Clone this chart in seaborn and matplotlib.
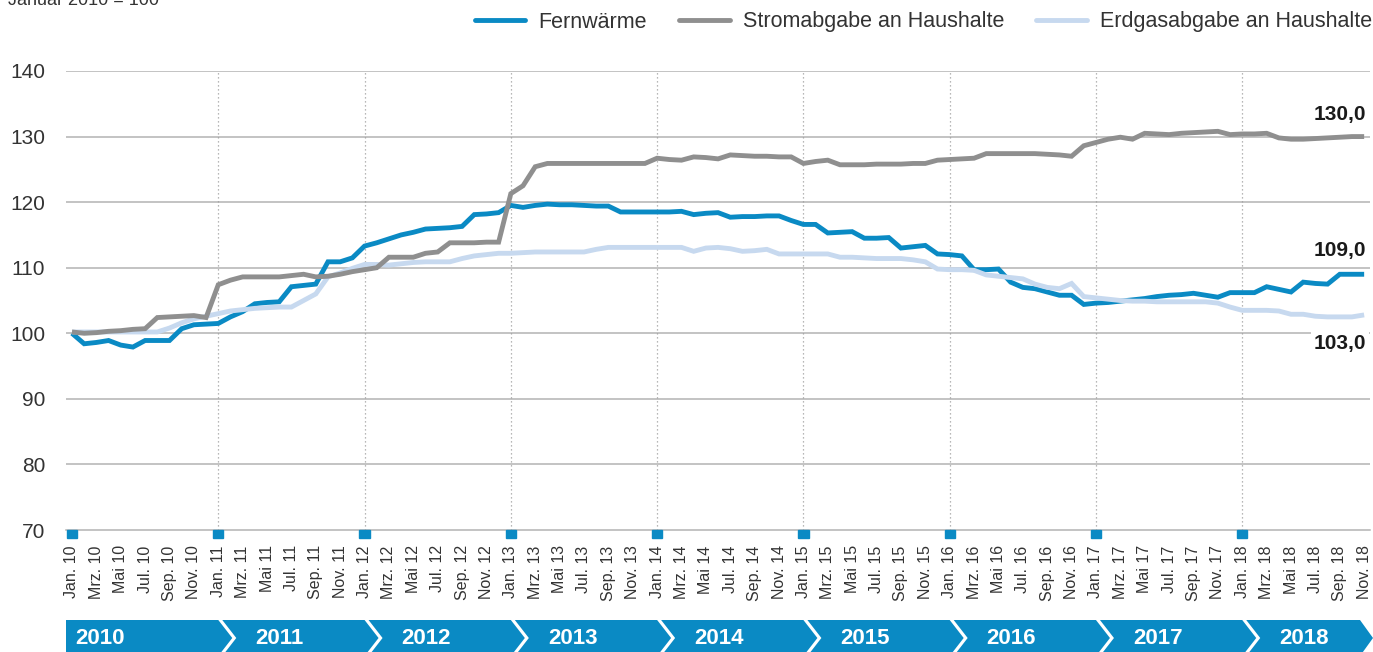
import matplotlib

matplotlib.use("Agg")

import matplotlib.pyplot as plt
import pandas as pd
import seaborn as sns
from matplotlib.lines import Line2D
from matplotlib.patches import Polygon, Rectangle


W, H = 1373, 652

# Index values, Januar 2010 = 100, monthly from Jan. 2010 to Nov. 2018
fernwaerme = [
    100.0, 98.4, 98.6, 98.9, 98.2, 97.9, 98.9, 98.9, 98.9, 100.7, 101.3, 101.4,
    101.5, 102.5, 103.3, 104.5, 104.7, 104.8, 107.1, 107.3, 107.5, 110.9, 110.9, 111.5,
    113.3, 113.8, 114.4, 115.0, 115.4, 115.9, 116.0, 116.1, 116.3, 118.1, 118.2, 118.4,
    119.5, 119.2, 119.5, 119.7, 119.6, 119.6, 119.5, 119.4, 119.4, 118.5, 118.5, 118.5,
    118.5, 118.5, 118.6, 118.1, 118.3, 118.4, 117.7, 117.8, 117.8, 117.9, 117.9, 117.2,
    116.6, 116.6, 115.3, 115.4, 115.5, 114.5, 114.5, 114.6, 113.0, 113.2, 113.4, 112.1,
    112.0, 111.8, 109.7, 109.7, 109.8, 107.8, 107.0, 106.8, 106.3, 105.8, 105.8, 104.4,
    104.6, 104.7, 104.9, 105.1, 105.3, 105.6, 105.8, 105.9, 106.1, 105.8, 105.5, 106.2,
    106.2, 106.2, 107.1, 106.7, 106.3, 107.8, 107.6, 107.5, 109.0, 109.0, 109.0,
]
strom = [
    100.2, 100.0, 100.1, 100.3, 100.4, 100.6, 100.7, 102.4, 102.5, 102.6, 102.7, 102.4,
    107.4, 108.1, 108.6, 108.6, 108.6, 108.6, 108.8, 109.0, 108.6, 108.7, 109.0, 109.4,
    109.7, 110.0, 111.6, 111.6, 111.6, 112.2, 112.4, 113.8, 113.8, 113.8, 113.9, 113.9,
    121.3, 122.5, 125.4, 125.9, 125.9, 125.9, 125.9, 125.9, 125.9, 125.9, 125.9, 125.9,
    126.7, 126.5, 126.4, 126.9, 126.8, 126.6, 127.2, 127.1, 127.0, 127.0, 126.9, 126.9,
    125.9, 126.2, 126.4, 125.7, 125.7, 125.7, 125.8, 125.8, 125.8, 125.9, 125.9, 126.4,
    126.5, 126.6, 126.7, 127.4, 127.4, 127.4, 127.4, 127.4, 127.3, 127.2, 127.0, 128.6,
    129.1, 129.6, 129.9, 129.6, 130.5, 130.4, 130.3, 130.5, 130.6, 130.7, 130.8, 130.3,
    130.4, 130.4, 130.5, 129.8, 129.6, 129.6, 129.7, 129.8, 129.9, 130.0, 130.0,
]
erdgas = [
    100.2, 100.2, 100.2, 100.2, 100.2, 100.2, 100.2, 100.2, 100.8, 101.6, 102.2, 102.6,
    103.0, 103.4, 103.6, 103.8, 103.9, 104.0, 104.0, 105.0, 106.0, 108.6, 109.2, 109.9,
    110.5, 110.5, 110.4, 110.6, 110.8, 110.9, 110.9, 110.9, 111.4, 111.8, 112.0, 112.2,
    112.2, 112.3, 112.4, 112.4, 112.4, 112.4, 112.4, 112.8, 113.1, 113.1, 113.1, 113.1,
    113.1, 113.1, 113.1, 112.5, 113.0, 113.1, 112.9, 112.5, 112.6, 112.8, 112.1, 112.1,
    112.1, 112.1, 112.1, 111.6, 111.6, 111.5, 111.4, 111.4, 111.4, 111.2, 110.9, 109.8,
    109.7, 109.7, 109.6, 108.9, 108.7, 108.5, 108.3, 107.5, 107.0, 106.8, 107.6, 105.6,
    105.4, 105.2, 105.0, 104.9, 104.9, 104.8, 104.8, 104.8, 104.8, 104.8, 104.6, 104.0,
    103.5, 103.5, 103.5, 103.4, 102.9, 102.9, 102.6, 102.5, 102.5, 102.5, 102.8,
]

series_names = ["Fernwärme", "Stromabgabe an Haushalte", "Erdgasabgabe an Haushalte"]
series_colors = ["#0a8ac4", "#8f8f8f", "#c7d9ef"]
end_labels = ["109,0", "130,0", "103,0"]
end_label_y = [112.7, 133.4, 98.4]

month_names = ["Jan.", "Mrz.", "Mai", "Jul.", "Sep.", "Nov."]
years = [2010, 2011, 2012, 2013, 2014, 2015, 2016, 2017, 2018]
subtitle = "Januar 2010 = 100"

assert len(fernwaerme) == len(strom) == len(erdgas) == 107

n = len(fernwaerme)
df = pd.DataFrame({
    "monat": list(range(n)) * 3,
    "wert": fernwaerme + strom + erdgas,
    "reihe": [series_names[0]] * n + [series_names[1]] * n + [series_names[2]] * n,
})

sns.set_style("white")
plt.rcParams["font.family"] = ["Liberation Sans", "DejaVu Sans"]
narrow = ["Liberation Sans Narrow", "Liberation Sans", "DejaVu Sans"]

fig = plt.figure(figsize=(W / 100, H / 100), dpi=100)
ax = fig.add_axes([66 / W, (H - 530) / H, (1370 - 66) / W, (530 - 71) / H])

# draw blue first, then light blue, gray on top
draw_order = [series_names[0], series_names[2], series_names[1]]
palette = dict(zip(series_names, series_colors))
sns.lineplot(data=df, x="monat", y="wert", hue="reihe", hue_order=draw_order,
             palette=palette, linewidth=3.5, legend=False, ax=ax, zorder=3)
for line in ax.get_lines():
    line.set_solid_joinstyle("miter")
    line.set_solid_capstyle("butt")

ax.set_xlim(-0.49, 106.48)
ax.set_ylim(70, 140)
ax.set_xlabel("")
ax.set_ylabel("")

for v in range(80, 141, 10):
    ax.axhline(v, color="#b3b3b3", lw=1.1, zorder=1)
for k in range(1, 9):
    ax.axvline(12 * k, color="#a0a0a0", lw=0.9, ls=(0, (1, 2.2)), zorder=1)

for side in ["top", "right", "left"]:
    ax.spines[side].set_visible(False)
ax.spines["bottom"].set_color("#b3b3b3")
ax.spines["bottom"].set_linewidth(1.1)

ax.set_yticks(range(70, 141, 10))
ax.tick_params(axis="y", length=0, pad=15, labelsize=15, labelcolor="#333333")

major = list(range(0, n, 2))
labels = [f"{month_names[(i % 12) // 2]} {10 + i // 12}" for i in major]
ax.set_xticks(major)
ax.set_xticklabels(labels, rotation=90, fontsize=11.5, color="#333333", family=narrow)
ax.set_xticks(list(range(1, n, 2)), minor=True)
ax.tick_params(axis="x", which="major", length=0, pad=11)
ax.tick_params(axis="x", which="minor", length=8, width=1, color="#cfcfcf", direction="out")

# blue markers on each January
for k in range(9):
    ax.add_patch(Rectangle((12 * k - 0.42, -0.018), 0.84, 0.018, transform=ax.get_xaxis_transform(),
                           color="#0a8ac4", clip_on=False, zorder=4))

for label, y in zip(end_labels, end_label_y):
    ax.text(106.2, y, label, ha="right", va="center", fontsize=15, fontweight="bold",
            color="#1a1a1a", zorder=5,
            bbox=dict(facecolor="white", edgecolor="none", pad=2))

handles = [Line2D([0], [0], color=c, lw=3.5) for c in series_colors]
fig.legend(handles, series_names, loc="center right", bbox_to_anchor=(1372 / W, 1 - 22 / H),
           ncol=3, frameon=False, fontsize=15.5, handlelength=2.35, handletextpad=0.6,
           columnspacing=1.5, borderaxespad=0, borderpad=0, labelcolor="#333333")

fig.text(8 / W, 1 - 5 / H, subtitle, fontsize=13, color="#333333", va="baseline")

# year banner at the bottom
bx = fig.add_axes([0, 0, 1, 32 / H])
bx.set_xlim(0, W)
bx.set_ylim(0, 32)
bx.axis("off")
top, mid, bot = 32, 14, -4
tip, gap = 14, 4
bounds = [72 + 146.28 * k for k in range(len(years) + 1)]
for k, year in enumerate(years):
    if k == 0:
        left = [(66, bot), (66, top)]
    else:
        left = [(bounds[k] + gap, bot), (bounds[k] + gap + tip, mid), (bounds[k] + gap, top)]
    if k < len(years) - 1:
        right = [(bounds[k + 1], top), (bounds[k + 1] + tip, mid), (bounds[k + 1], bot)]
    else:
        right = [(1360, top), (1373, mid), (1360, bot)]
    bx.add_patch(Polygon(left + right, closed=True, color="#0a8ac4", lw=0))
    x0 = 75 if k == 0 else bounds[k] + 37
    bx.text(x0, 13, str(year), color="white", fontsize=16, fontweight="bold",
            ha="left", va="center", family=narrow)

fig.savefig("out.png", dpi=100)
plt.close(fig)
